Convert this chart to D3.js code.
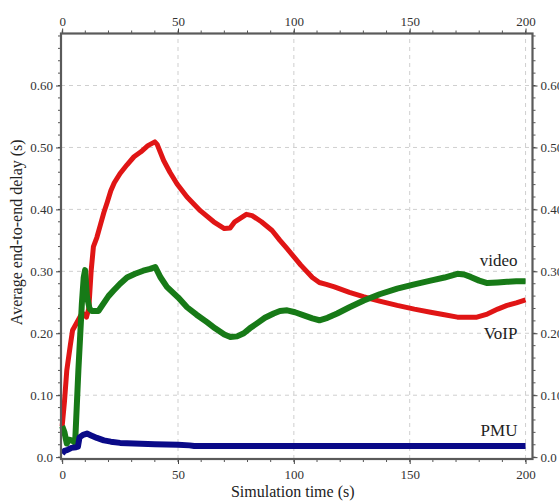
<!DOCTYPE html>
<html>
<head>
<meta charset="utf-8">
<script src="https://cdn.jsdelivr.net/npm/d3@7"></script>
<style>
  html, body { margin: 0; padding: 0; background: #fff; }
  svg { display: block; font-family: "Liberation Serif", "Times New Roman", serif; }
</style>
</head>
<body>
<svg id="chart" width="559" height="503"></svg>
<script>
// Average end-to-end delay per traffic class over simulation time
const voipTime  = [0, 1, 2, 3.5, 4.5, 6, 8.5, 9, 10.5, 11.5, 12.5, 13.5, 15, 16.5, 18, 19.5, 21, 22.5, 25, 28, 31, 34, 37, 40, 41, 43.8, 46.5, 49.6, 53.9, 59.6, 65.4, 70, 72.5, 74.5, 79.5, 82, 86, 90.6, 94, 97, 103, 108, 111, 114, 117.5, 124, 130, 137, 144.6, 152, 159, 165, 170.6, 175, 179, 183.5, 188, 192, 196, 200];
const voipDelay = [0.05, 0.09, 0.14, 0.18, 0.205, 0.215, 0.232, 0.232, 0.226, 0.24, 0.30, 0.34, 0.355, 0.375, 0.395, 0.412, 0.43, 0.443, 0.458, 0.472, 0.485, 0.493, 0.503, 0.509, 0.505, 0.479, 0.46, 0.441, 0.42, 0.398, 0.38, 0.369, 0.37, 0.38, 0.392, 0.39, 0.38, 0.366, 0.35, 0.337, 0.31, 0.29, 0.282, 0.279, 0.275, 0.266, 0.259, 0.252, 0.245, 0.239, 0.234, 0.23, 0.226, 0.226, 0.226, 0.231, 0.239, 0.245, 0.249, 0.254];

const videoTime  = [0, 1, 2, 3, 4.2, 5.6, 7, 8.5, 9.3, 9.9, 10.7, 11.8, 12.8, 15.7, 17.8, 20, 22.2, 25, 28, 31.5, 35, 38, 40.2, 42.5, 45.2, 50, 53.9, 58, 62.5, 66, 70, 72.6, 75.5, 78.4, 81, 84.1, 87.5, 91.3, 94, 97.1, 100.5, 104.3, 108, 111, 114.5, 118.7, 124, 130.2, 137, 144.6, 152, 159, 165, 170.6, 173.5, 176.3, 180, 183.5, 188, 192, 196, 200];
const videoDelay = [0.05, 0.04, 0.022, 0.028, 0.027, 0.023, 0.14, 0.248, 0.29, 0.302, 0.26, 0.24, 0.236, 0.236, 0.248, 0.26, 0.269, 0.28, 0.29, 0.296, 0.301, 0.304, 0.307, 0.29, 0.275, 0.258, 0.242, 0.23, 0.218, 0.208, 0.198, 0.194, 0.195, 0.2, 0.208, 0.216, 0.225, 0.232, 0.236, 0.237, 0.234, 0.229, 0.224, 0.221, 0.225, 0.232, 0.242, 0.253, 0.263, 0.272, 0.279, 0.285, 0.29, 0.296, 0.295, 0.291, 0.285, 0.281, 0.282, 0.283, 0.284, 0.284];

const pmuTime  = [0, 1, 2.5, 4, 6, 6.8, 7.5, 9, 10.7, 12.5, 15, 18, 21, 25, 31, 40, 50, 55, 57, 100, 150, 200];
const pmuDelay = [0.006, 0.01, 0.012, 0.015, 0.016, 0.017, 0.032, 0.036, 0.038, 0.035, 0.031, 0.027, 0.025, 0.023, 0.022, 0.021, 0.02, 0.019, 0.018, 0.018, 0.018, 0.018];

const xTickValues = [0, 50, 100, 150, 200];
const yTickValues = [0, 0.1, 0.2, 0.3, 0.4, 0.5, 0.6];
const seriesNames = ["VoIP", "video", "PMU"];

const svg = d3.select("#chart");

// Frame spans a little beyond the data range on every side
const x = d3.scaleLinear().domain([-0.5, 203]).range([61, 532.5]);
const y = d3.scaleLinear().domain([-0.003, 0.684]).range([459, 33.5]);

const [x0, x1] = x.range();
const [y0, y1] = y.range();

const yFmt = d => d === 0 ? "0.0" : d3.format(".2f")(d);

// Dashed grid at major ticks
const grid = svg.append("g").attr("stroke", "#cfcfcf").attr("stroke-width", 1).attr("stroke-dasharray", "4,4");
grid.selectAll(".gx").data(xTickValues.filter(d => d > 0)).join("line")
  .attr("x1", d => x(d)).attr("x2", d => x(d)).attr("y1", y0).attr("y2", y1);
grid.selectAll(".gy").data(yTickValues.filter(d => d > 0)).join("line")
  .attr("y1", d => y(d)).attr("y2", d => y(d)).attr("x1", x0).attr("x2", x1);

// Series lines
const line = d3.line().x(d => x(d[0])).y(d => y(d[1]));
const series = [
  { t: voipTime, v: voipDelay, color: "#e01515", width: 5 },
  { t: videoTime, v: videoDelay, color: "#177a17", width: 6 },
  { t: pmuTime, v: pmuDelay, color: "#0a0a88", width: 6 }
];
series.forEach(s => {
  svg.append("path")
    .datum(s.t.map((t, i) => [t, s.v[i]]))
    .attr("fill", "none")
    .attr("stroke", s.color)
    .attr("stroke-width", s.width)
    .attr("stroke-linejoin", "round")
    .attr("stroke-linecap", "butt")
    .attr("d", line);
});

// Axes on all four sides, ticks outward
const minorX = d3.range(0, 201, 10);
const minorY = d3.range(0, 0.681, 0.02);

function axisDecor(axisGen) {
  return g => {
    g.call(axisGen);
    g.select(".domain").remove();
    g.selectAll(".tick line").attr("stroke", "#444");
    g.selectAll(".tick text").attr("fill", "#333").attr("font-size", 13)
      .attr("font-family", "Liberation Serif, serif");
  };
}

// Minor ticks
const minor = svg.append("g").attr("stroke", "#555").attr("stroke-width", 1);
minor.selectAll(".mb").data(minorX).join("line")
  .attr("x1", d => x(d)).attr("x2", d => x(d)).attr("y1", y0).attr("y2", y0 + 3);
minor.selectAll(".mt").data(minorX).join("line")
  .attr("x1", d => x(d)).attr("x2", d => x(d)).attr("y1", y1).attr("y2", y1 - 3);
minor.selectAll(".ml").data(minorY).join("line")
  .attr("y1", d => y(d)).attr("y2", d => y(d)).attr("x1", x0).attr("x2", x0 - 3);
minor.selectAll(".mr").data(minorY).join("line")
  .attr("y1", d => y(d)).attr("y2", d => y(d)).attr("x1", x1).attr("x2", x1 + 3);

svg.append("g").attr("transform", `translate(0,${y0})`)
  .call(axisDecor(d3.axisBottom(x).tickValues(xTickValues).tickSize(5).tickPadding(6).tickFormat(d3.format("d"))));
svg.append("g").attr("transform", `translate(0,${y1})`)
  .call(axisDecor(d3.axisTop(x).tickValues(xTickValues).tickSize(5).tickPadding(3).tickFormat(d3.format("d"))));
svg.append("g").attr("transform", `translate(${x0},0)`)
  .call(axisDecor(d3.axisLeft(y).tickValues(yTickValues).tickSize(5).tickPadding(3).tickFormat(yFmt)));
svg.append("g").attr("transform", `translate(${x1},0)`)
  .call(axisDecor(d3.axisRight(y).tickValues(yTickValues).tickSize(5).tickPadding(3).tickFormat(yFmt)));

// Frame
svg.append("rect")
  .attr("x", x0).attr("y", y1)
  .attr("width", x1 - x0).attr("height", y0 - y1)
  .attr("fill", "none").attr("stroke", "#5a5a5a").attr("stroke-width", 2.2);

// Axis titles
svg.append("text")
  .attr("x", (x0 + x1) / 2 - 4).attr("y", 497)
  .attr("text-anchor", "middle").attr("font-size", 16).attr("fill", "#222")
  .text("Simulation time (s)");
svg.append("text")
  .attr("transform", `translate(22,${(y0 + y1) / 2 - 14}) rotate(-90)`)
  .attr("text-anchor", "middle").attr("font-size", 16).attr("fill", "#222")
  .text("Average end-to-end delay (s)");

// Series labels
const labelY = { "video": 0.309, "VoIP": 0.191, "PMU": 0.034 };
svg.selectAll(".lbl").data(seriesNames).join("text")
  .attr("x", x(196.5)).attr("y", d => y(labelY[d]))
  .attr("text-anchor", "end").attr("font-size", 17).attr("fill", "#222")
  .text(d => d);
</script>
</body>
</html>
